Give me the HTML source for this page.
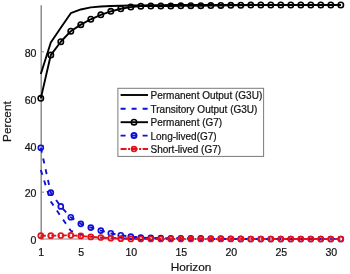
<!DOCTYPE html>
<html><head><meta charset="utf-8"><style>
html,body{margin:0;padding:0;background:#fff;}
body{width:350px;height:274px;overflow:hidden;}
svg{display:block;font-family:"Liberation Sans",sans-serif;will-change:transform;}
text{stroke:#151515;stroke-width:0.22px;}
</style></head><body>
<svg width="350" height="274" viewBox="0 0 350 274">
<rect width="350" height="274" fill="#fff"/>
<line x1="41.2" y1="5.3" x2="41.2" y2="239.5" stroke="#858585" stroke-width="1.4"/>
<line x1="40.5" y1="239" x2="341" y2="239" stroke="#858585" stroke-width="1.2"/>
<line x1="41" y1="239.00" x2="44" y2="239.00" stroke="#858585" stroke-width="1"/>
<line x1="41" y1="192.20" x2="44" y2="192.20" stroke="#858585" stroke-width="1"/>
<line x1="41" y1="145.40" x2="44" y2="145.40" stroke="#858585" stroke-width="1"/>
<line x1="41" y1="98.60" x2="44" y2="98.60" stroke="#858585" stroke-width="1"/>
<line x1="41" y1="51.80" x2="44" y2="51.80" stroke="#858585" stroke-width="1"/>
<line x1="40.80" y1="239" x2="40.80" y2="236" stroke="#858585" stroke-width="1"/>
<line x1="80.80" y1="239" x2="80.80" y2="236" stroke="#858585" stroke-width="1"/>
<line x1="130.80" y1="239" x2="130.80" y2="236" stroke="#858585" stroke-width="1"/>
<line x1="180.80" y1="239" x2="180.80" y2="236" stroke="#858585" stroke-width="1"/>
<line x1="230.80" y1="239" x2="230.80" y2="236" stroke="#858585" stroke-width="1"/>
<line x1="280.80" y1="239" x2="280.80" y2="236" stroke="#858585" stroke-width="1"/>
<line x1="330.80" y1="239" x2="330.80" y2="236" stroke="#858585" stroke-width="1"/>
<text x="36.5" y="244.10" text-anchor="end" font-size="10.6" fill="#151515">0</text>
<text x="36.5" y="197.30" text-anchor="end" font-size="10.6" fill="#151515">20</text>
<text x="36.5" y="150.50" text-anchor="end" font-size="10.6" fill="#151515">40</text>
<text x="36.5" y="103.70" text-anchor="end" font-size="10.6" fill="#151515">60</text>
<text x="36.5" y="56.90" text-anchor="end" font-size="10.6" fill="#151515">80</text>
<text x="41.30" y="255.6" text-anchor="middle" font-size="10.6" fill="#151515">1</text>
<text x="81.30" y="255.6" text-anchor="middle" font-size="10.6" fill="#151515">5</text>
<text x="131.30" y="255.6" text-anchor="middle" font-size="10.6" fill="#151515">10</text>
<text x="181.30" y="255.6" text-anchor="middle" font-size="10.6" fill="#151515">15</text>
<text x="231.30" y="255.6" text-anchor="middle" font-size="10.6" fill="#151515">20</text>
<text x="281.30" y="255.6" text-anchor="middle" font-size="10.6" fill="#151515">25</text>
<text x="331.30" y="255.6" text-anchor="middle" font-size="10.6" fill="#151515">30</text>
<text x="191" y="270.9" text-anchor="middle" font-size="11.8" fill="#151515">Horizon</text>
<text transform="translate(11.4,121.6) rotate(-90)" x="0" y="0" text-anchor="middle" font-size="11.8" fill="#151515">Percent</text>
<polyline points="40.80,74.03 50.80,42.44 60.80,27.70 70.80,13.19 80.80,9.45 90.80,7.34 100.80,6.52 110.80,6.05 120.80,5.70 130.80,5.47 140.80,5.35 150.80,5.23 160.80,5.12 170.80,5.00 180.80,5.00 190.80,5.00 200.80,5.00 210.80,5.00 220.80,5.00 230.80,5.00 240.80,5.00 250.80,5.00 260.80,5.00 270.80,5.00 280.80,5.00 290.80,5.00 300.80,5.00 310.80,5.00 320.80,5.00 330.80,5.00 340.80,5.00" fill="none" stroke="#000000" stroke-width="1.9" stroke-linejoin="round"/>
<polyline points="40.80,169.97 50.80,201.56 60.80,216.30 70.80,230.81 80.80,234.55 90.80,236.66 100.80,237.48 110.80,237.95 120.80,238.30 130.80,238.53 140.80,238.65 150.80,238.77 160.80,238.88 170.80,239.00 180.80,239.00 190.80,239.00 200.80,239.00 210.80,239.00 220.80,239.00 230.80,239.00 240.80,239.00 250.80,239.00 260.80,239.00 270.80,239.00 280.80,239.00 290.80,239.00 300.80,239.00 310.80,239.00 320.80,239.00 330.80,239.00 340.80,239.00" fill="none" stroke="#1010d8" stroke-width="1.9" stroke-dasharray="5 6"/>
<polyline points="40.80,98.37 50.80,55.08 60.80,41.74 70.80,31.21 80.80,24.66 90.80,19.27 100.80,14.83 110.80,11.32 120.80,8.74 130.80,7.11 140.80,6.17 150.80,6.05 160.80,5.94 170.80,5.94 180.80,5.82 190.80,5.70 200.80,5.70 210.80,5.59 220.80,5.47 230.80,5.35 240.80,5.23 250.80,5.12 260.80,5.00 270.80,5.00 280.80,5.00 290.80,5.00 300.80,5.00 310.80,5.00 320.80,5.00 330.80,5.00 340.80,5.00" fill="none" stroke="#000000" stroke-width="1.9" stroke-linejoin="round"/>
<circle cx="40.80" cy="98.37" r="2.7" fill="none" stroke="#000000" stroke-width="1.6"/><circle cx="50.80" cy="55.08" r="2.7" fill="none" stroke="#000000" stroke-width="1.6"/><circle cx="60.80" cy="41.74" r="2.7" fill="none" stroke="#000000" stroke-width="1.6"/><circle cx="70.80" cy="31.21" r="2.7" fill="none" stroke="#000000" stroke-width="1.6"/><circle cx="80.80" cy="24.66" r="2.7" fill="none" stroke="#000000" stroke-width="1.6"/><circle cx="90.80" cy="19.27" r="2.7" fill="none" stroke="#000000" stroke-width="1.6"/><circle cx="100.80" cy="14.83" r="2.7" fill="none" stroke="#000000" stroke-width="1.6"/><circle cx="110.80" cy="11.32" r="2.7" fill="none" stroke="#000000" stroke-width="1.6"/><circle cx="120.80" cy="8.74" r="2.7" fill="none" stroke="#000000" stroke-width="1.6"/><circle cx="130.80" cy="7.11" r="2.7" fill="none" stroke="#000000" stroke-width="1.6"/><circle cx="140.80" cy="6.17" r="2.7" fill="none" stroke="#000000" stroke-width="1.6"/><circle cx="150.80" cy="6.05" r="2.7" fill="none" stroke="#000000" stroke-width="1.6"/><circle cx="160.80" cy="5.94" r="2.7" fill="none" stroke="#000000" stroke-width="1.6"/><circle cx="170.80" cy="5.94" r="2.7" fill="none" stroke="#000000" stroke-width="1.6"/><circle cx="180.80" cy="5.82" r="2.7" fill="none" stroke="#000000" stroke-width="1.6"/><circle cx="190.80" cy="5.70" r="2.7" fill="none" stroke="#000000" stroke-width="1.6"/><circle cx="200.80" cy="5.70" r="2.7" fill="none" stroke="#000000" stroke-width="1.6"/><circle cx="210.80" cy="5.59" r="2.7" fill="none" stroke="#000000" stroke-width="1.6"/><circle cx="220.80" cy="5.47" r="2.7" fill="none" stroke="#000000" stroke-width="1.6"/><circle cx="230.80" cy="5.35" r="2.7" fill="none" stroke="#000000" stroke-width="1.6"/><circle cx="240.80" cy="5.23" r="2.7" fill="none" stroke="#000000" stroke-width="1.6"/><circle cx="250.80" cy="5.12" r="2.7" fill="none" stroke="#000000" stroke-width="1.6"/><circle cx="260.80" cy="5.00" r="2.7" fill="none" stroke="#000000" stroke-width="1.6"/><circle cx="270.80" cy="5.00" r="2.7" fill="none" stroke="#000000" stroke-width="1.6"/><circle cx="280.80" cy="5.00" r="2.7" fill="none" stroke="#000000" stroke-width="1.6"/><circle cx="290.80" cy="5.00" r="2.7" fill="none" stroke="#000000" stroke-width="1.6"/><circle cx="300.80" cy="5.00" r="2.7" fill="none" stroke="#000000" stroke-width="1.6"/><circle cx="310.80" cy="5.00" r="2.7" fill="none" stroke="#000000" stroke-width="1.6"/><circle cx="320.80" cy="5.00" r="2.7" fill="none" stroke="#000000" stroke-width="1.6"/><circle cx="330.80" cy="5.00" r="2.7" fill="none" stroke="#000000" stroke-width="1.6"/><circle cx="340.80" cy="5.00" r="2.7" fill="none" stroke="#000000" stroke-width="1.6"/>
<polyline points="40.80,147.74 50.80,192.67 60.80,206.47 70.80,217.24 80.80,223.79 90.80,227.53 100.80,230.58 110.80,233.27 120.80,235.26 130.80,236.66 140.80,237.60 150.80,237.95 160.80,238.18 170.80,238.30 180.80,238.30 190.80,238.30 200.80,238.41 210.80,238.53 220.80,238.65 230.80,238.77 240.80,238.88 250.80,239.00 260.80,239.00 270.80,239.00 280.80,239.00 290.80,239.00 300.80,239.00 310.80,239.00 320.80,239.00 330.80,239.00 340.80,239.00" fill="none" stroke="#1010d8" stroke-width="1.9" stroke-dasharray="5 6"/>
<circle cx="40.80" cy="147.74" r="2.5" fill="none" stroke="#1010d8" stroke-width="1.7"/><circle cx="50.80" cy="192.67" r="2.5" fill="none" stroke="#1010d8" stroke-width="1.7"/><circle cx="60.80" cy="206.47" r="2.5" fill="none" stroke="#1010d8" stroke-width="1.7"/><circle cx="70.80" cy="217.24" r="2.5" fill="none" stroke="#1010d8" stroke-width="1.7"/><circle cx="80.80" cy="223.79" r="2.5" fill="none" stroke="#1010d8" stroke-width="1.7"/><circle cx="90.80" cy="227.53" r="2.5" fill="none" stroke="#1010d8" stroke-width="1.7"/><circle cx="100.80" cy="230.58" r="2.5" fill="none" stroke="#1010d8" stroke-width="1.7"/><circle cx="110.80" cy="233.27" r="2.5" fill="none" stroke="#1010d8" stroke-width="1.7"/><circle cx="120.80" cy="235.26" r="2.5" fill="none" stroke="#1010d8" stroke-width="1.7"/><circle cx="130.80" cy="236.66" r="2.5" fill="none" stroke="#1010d8" stroke-width="1.7"/><circle cx="140.80" cy="237.60" r="2.5" fill="none" stroke="#1010d8" stroke-width="1.7"/><circle cx="150.80" cy="237.95" r="2.5" fill="none" stroke="#1010d8" stroke-width="1.7"/><circle cx="160.80" cy="238.18" r="2.5" fill="none" stroke="#1010d8" stroke-width="1.7"/><circle cx="170.80" cy="238.30" r="2.5" fill="none" stroke="#1010d8" stroke-width="1.7"/><circle cx="180.80" cy="238.30" r="2.5" fill="none" stroke="#1010d8" stroke-width="1.7"/><circle cx="190.80" cy="238.30" r="2.5" fill="none" stroke="#1010d8" stroke-width="1.7"/><circle cx="200.80" cy="238.41" r="2.5" fill="none" stroke="#1010d8" stroke-width="1.7"/><circle cx="210.80" cy="238.53" r="2.5" fill="none" stroke="#1010d8" stroke-width="1.7"/><circle cx="220.80" cy="238.65" r="2.5" fill="none" stroke="#1010d8" stroke-width="1.7"/><circle cx="230.80" cy="238.77" r="2.5" fill="none" stroke="#1010d8" stroke-width="1.7"/><circle cx="240.80" cy="238.88" r="2.5" fill="none" stroke="#1010d8" stroke-width="1.7"/><circle cx="250.80" cy="239.00" r="2.5" fill="none" stroke="#1010d8" stroke-width="1.7"/><circle cx="260.80" cy="239.00" r="2.5" fill="none" stroke="#1010d8" stroke-width="1.7"/><circle cx="270.80" cy="239.00" r="2.5" fill="none" stroke="#1010d8" stroke-width="1.7"/><circle cx="280.80" cy="239.00" r="2.5" fill="none" stroke="#1010d8" stroke-width="1.7"/><circle cx="290.80" cy="239.00" r="2.5" fill="none" stroke="#1010d8" stroke-width="1.7"/><circle cx="300.80" cy="239.00" r="2.5" fill="none" stroke="#1010d8" stroke-width="1.7"/><circle cx="310.80" cy="239.00" r="2.5" fill="none" stroke="#1010d8" stroke-width="1.7"/><circle cx="320.80" cy="239.00" r="2.5" fill="none" stroke="#1010d8" stroke-width="1.7"/><circle cx="330.80" cy="239.00" r="2.5" fill="none" stroke="#1010d8" stroke-width="1.7"/><circle cx="340.80" cy="239.00" r="2.5" fill="none" stroke="#1010d8" stroke-width="1.7"/>
<polyline points="40.80,235.72 50.80,235.72 60.80,235.49 70.80,235.37 80.80,235.96 90.80,236.89 100.80,237.48 110.80,238.18 120.80,238.65 130.80,238.88 140.80,239.00 150.80,239.00 160.80,239.00 170.80,239.00 180.80,239.00 190.80,239.00 200.80,239.00 210.80,239.00 220.80,239.00 230.80,239.00 240.80,239.00 250.80,239.00 260.80,239.00 270.80,239.00 280.80,239.00 290.80,239.00 300.80,239.00 310.80,239.00 320.80,239.00 330.80,239.00 340.80,239.00" fill="none" stroke="#e81018" stroke-width="1.9" stroke-dasharray="5 2 1.5 2"/>
<circle cx="40.80" cy="235.72" r="2.5" fill="none" stroke="#e81018" stroke-width="1.7"/><circle cx="50.80" cy="235.72" r="2.5" fill="none" stroke="#e81018" stroke-width="1.7"/><circle cx="60.80" cy="235.49" r="2.5" fill="none" stroke="#e81018" stroke-width="1.7"/><circle cx="70.80" cy="235.37" r="2.5" fill="none" stroke="#e81018" stroke-width="1.7"/><circle cx="80.80" cy="235.96" r="2.5" fill="none" stroke="#e81018" stroke-width="1.7"/><circle cx="90.80" cy="236.89" r="2.5" fill="none" stroke="#e81018" stroke-width="1.7"/><circle cx="100.80" cy="237.48" r="2.5" fill="none" stroke="#e81018" stroke-width="1.7"/><circle cx="110.80" cy="238.18" r="2.5" fill="none" stroke="#e81018" stroke-width="1.7"/><circle cx="120.80" cy="238.65" r="2.5" fill="none" stroke="#e81018" stroke-width="1.7"/><circle cx="130.80" cy="238.88" r="2.5" fill="none" stroke="#e81018" stroke-width="1.7"/><circle cx="140.80" cy="239.00" r="2.5" fill="none" stroke="#e81018" stroke-width="1.7"/><circle cx="150.80" cy="239.00" r="2.5" fill="none" stroke="#e81018" stroke-width="1.7"/><circle cx="160.80" cy="239.00" r="2.5" fill="none" stroke="#e81018" stroke-width="1.7"/><circle cx="170.80" cy="239.00" r="2.5" fill="none" stroke="#e81018" stroke-width="1.7"/><circle cx="180.80" cy="239.00" r="2.5" fill="none" stroke="#e81018" stroke-width="1.7"/><circle cx="190.80" cy="239.00" r="2.5" fill="none" stroke="#e81018" stroke-width="1.7"/><circle cx="200.80" cy="239.00" r="2.5" fill="none" stroke="#e81018" stroke-width="1.7"/><circle cx="210.80" cy="239.00" r="2.5" fill="none" stroke="#e81018" stroke-width="1.7"/><circle cx="220.80" cy="239.00" r="2.5" fill="none" stroke="#e81018" stroke-width="1.7"/><circle cx="230.80" cy="239.00" r="2.5" fill="none" stroke="#e81018" stroke-width="1.7"/><circle cx="240.80" cy="239.00" r="2.5" fill="none" stroke="#e81018" stroke-width="1.7"/><circle cx="250.80" cy="239.00" r="2.5" fill="none" stroke="#e81018" stroke-width="1.7"/><circle cx="260.80" cy="239.00" r="2.5" fill="none" stroke="#e81018" stroke-width="1.7"/><circle cx="270.80" cy="239.00" r="2.5" fill="none" stroke="#e81018" stroke-width="1.7"/><circle cx="280.80" cy="239.00" r="2.5" fill="none" stroke="#e81018" stroke-width="1.7"/><circle cx="290.80" cy="239.00" r="2.5" fill="none" stroke="#e81018" stroke-width="1.7"/><circle cx="300.80" cy="239.00" r="2.5" fill="none" stroke="#e81018" stroke-width="1.7"/><circle cx="310.80" cy="239.00" r="2.5" fill="none" stroke="#e81018" stroke-width="1.7"/><circle cx="320.80" cy="239.00" r="2.5" fill="none" stroke="#e81018" stroke-width="1.7"/><circle cx="330.80" cy="239.00" r="2.5" fill="none" stroke="#e81018" stroke-width="1.7"/><circle cx="340.80" cy="239.00" r="2.5" fill="none" stroke="#e81018" stroke-width="1.7"/>
<rect x="117.9" y="88.3" width="145.7" height="68.1" fill="#fff" stroke="#7a7a7a" stroke-width="1"/>
<line x1="120.6" y1="95" x2="148" y2="95" stroke="#000000" stroke-width="1.9"/>
<text x="150.5" y="99.2" font-size="10" fill="#151515">Permanent Output (G3U)</text>
<line x1="120.6" y1="108.8" x2="148" y2="108.8" stroke="#1010d8" stroke-width="1.9" stroke-dasharray="5 6"/>
<text x="150.5" y="113.0" font-size="10" fill="#151515">Transitory Output (G3U)</text>
<line x1="120.6" y1="122.2" x2="148" y2="122.2" stroke="#000000" stroke-width="1.9"/>
<circle cx="134" cy="122.2" r="2.7" fill="none" stroke="#000000" stroke-width="1.6"/>
<text x="150.5" y="126.4" font-size="10" fill="#151515">Permanent (G7)</text>
<line x1="120.6" y1="135.6" x2="148" y2="135.6" stroke="#1010d8" stroke-width="1.9" stroke-dasharray="5 6"/>
<circle cx="134" cy="135.6" r="2.5" fill="none" stroke="#1010d8" stroke-width="2.0"/>
<text x="150.5" y="139.79999999999998" font-size="10" fill="#151515">Long-lived(G7)</text>
<line x1="120.6" y1="149.0" x2="148" y2="149.0" stroke="#e81018" stroke-width="1.9" stroke-dasharray="6 1.5 2 1.5"/>
<circle cx="134" cy="149.0" r="2.4" fill="none" stroke="#e81018" stroke-width="1.7"/>
<text x="150.5" y="153.2" font-size="10" fill="#151515">Short-lived (G7)</text>
</svg>
</body></html>
